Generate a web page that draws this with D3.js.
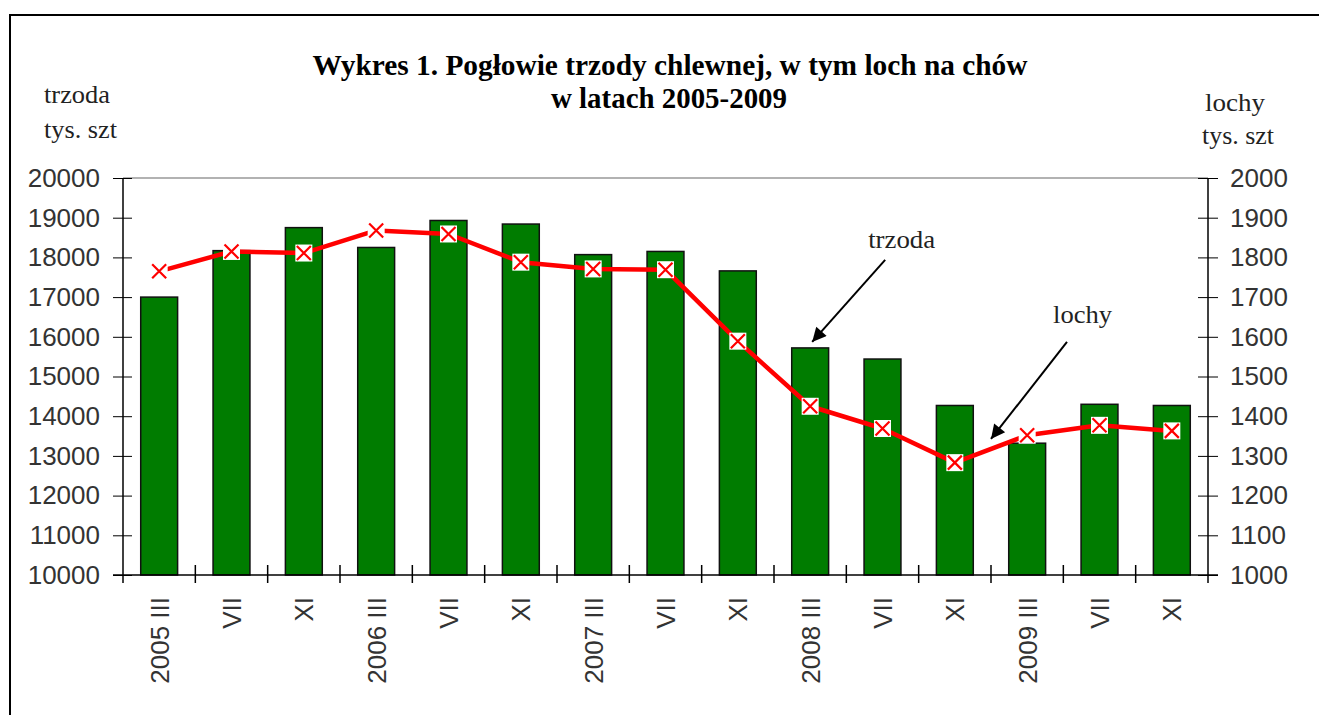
<!DOCTYPE html>
<html>
<head>
<meta charset="utf-8">
<script src="https://cdn.jsdelivr.net/npm/d3@7"></script>
<style>
  body { margin: 0; background: #fff; }
  svg { display: block; }
</style>
</head>
<body>
<div id="chart"></div>
<script>
// categories (survey months) and the two series
const categories = ["2005 III", "VII", "XI", "2006 III", "VII", "XI", "2007 III", "VII", "XI",
                    "2008 III", "VII", "XI", "2009 III", "VII", "XI"];
const trzoda = [17000, 18170, 18750, 18250, 18930, 18840, 18070, 18150, 17660,
                15720, 15440, 14270, 13320, 14300, 14270];
const lochy = [1765, 1815, 1811, 1868, 1859, 1788, 1771, 1769, 1589,
               1425, 1369, 1283, 1352, 1377, 1363];
const leftTicks = [10000, 11000, 12000, 13000, 14000, 15000, 16000, 17000, 18000, 19000, 20000];
const rightTicks = [1000, 1100, 1200, 1300, 1400, 1500, 1600, 1700, 1800, 1900, 2000];

const W = 1319, H = 715;
const sans = "'Liberation Sans', Arial, sans-serif";
const serif = "'Liberation Serif', 'Times New Roman', serif";

const svg = d3.select("#chart").append("svg")
  .attr("width", W)
  .attr("height", H);

// frame (only top and left edges visible)
svg.append("line").attr("x1", 10).attr("x2", W).attr("y1", 15).attr("y2", 15)
  .attr("stroke", "#000").attr("stroke-width", 2);
svg.append("line").attr("x1", 10).attr("x2", 10).attr("y1", 14).attr("y2", H)
  .attr("stroke", "#000").attr("stroke-width", 2);

// scales
const x = d3.scaleBand()
  .domain(d3.range(categories.length))
  .range([123, 1208])
  .paddingInner(0.49)
  .paddingOuter(0.245);
const yL = d3.scaleLinear().domain([10000, 20000]).range([575, 178]);
const yR = d3.scaleLinear().domain([1000, 2000]).range([575, 178]);
const cx = i => x(i) + x.bandwidth() / 2;

// title
svg.append("text")
  .attr("x", 670).attr("y", 75)
  .attr("text-anchor", "middle")
  .attr("textLength", 715).attr("lengthAdjust", "spacingAndGlyphs")
  .style("font-family", serif).style("font-weight", "bold").style("font-size", "30px")
  .text("Wykres 1. Pogłowie trzody chlewnej, w tym loch na chów");
svg.append("text")
  .attr("x", 669).attr("y", 108)
  .attr("text-anchor", "middle")
  .attr("textLength", 236).attr("lengthAdjust", "spacingAndGlyphs")
  .style("font-family", serif).style("font-weight", "bold").style("font-size", "30px")
  .text("w latach 2005-2009");

// axis titles
const axTitle = (tx, ty, s, len) => svg.append("text")
  .attr("x", tx).attr("y", ty)
  .attr("textLength", len).attr("lengthAdjust", "spacingAndGlyphs")
  .style("font-family", serif).style("font-size", "26px").style("fill", "#222")
  .text(s);
axTitle(44, 103, "trzoda", 66);
axTitle(44, 138, "tys. szt", 73);
axTitle(1205, 111, "lochy", 60);
axTitle(1202, 144, "tys. szt", 72);

// plot area top border
svg.append("line")
  .attr("x1", x.range()[0]).attr("x2", x.range()[1])
  .attr("y1", yL(20000)).attr("y2", yL(20000))
  .attr("stroke", "#999").attr("stroke-width", 1.5);

// bars
svg.append("g").selectAll("rect")
  .data(trzoda)
  .join("rect")
  .attr("x", (d, i) => x(i))
  .attr("y", d => yL(d))
  .attr("width", x.bandwidth())
  .attr("height", d => yL(10000) - yL(d))
  .attr("fill", "#007c00")
  .attr("stroke", "#111")
  .attr("stroke-width", 1.5);

// left axis
const gL = svg.append("g")
  .attr("transform", `translate(${x.range()[0]},0)`)
  .call(d3.axisLeft(yL).tickValues(leftTicks).tickFormat(d3.format("d"))
    .tickSize(10).tickPadding(13).tickSizeOuter(0));
gL.selectAll(".tick line").attr("x1", 9);
gL.select(".domain").attr("stroke-width", 1.5).attr("d", `M0,${yL(20000)}V${yL(10000) + 8}`);
gL.selectAll("text").style("font-family", sans).style("font-size", "26px").style("fill", "#333");

// right axis
const gR = svg.append("g")
  .attr("transform", `translate(${x.range()[1]},0)`)
  .call(d3.axisRight(yR).tickValues(rightTicks).tickFormat(d3.format("d"))
    .tickSize(10).tickPadding(12).tickSizeOuter(0));
gR.selectAll(".tick line").attr("x1", -10);
gR.select(".domain").attr("stroke-width", 1.5).attr("d", `M0,${yR(2000)}V${yR(1000) + 8}`);
gR.selectAll("text").style("font-family", sans).style("font-size", "26px").style("fill", "#333");

// category axis: baseline, boundary ticks, rotated labels
const base = yL(10000);
svg.append("line")
  .attr("x1", x.range()[0] - 10).attr("x2", x.range()[1] + 10)
  .attr("y1", base).attr("y2", base)
  .attr("stroke", "#000").attr("stroke-width", 1.5);
svg.append("g").selectAll("line")
  .data(d3.range(1, categories.length))
  .join("line")
  .attr("x1", i => cx(i) - x.step() / 2).attr("x2", i => cx(i) - x.step() / 2)
  .attr("y1", base - 10).attr("y2", base + 8)
  .attr("stroke", "#000").attr("stroke-width", 1.5);
svg.append("g").selectAll("text")
  .data(categories)
  .join("text")
  .attr("transform", (d, i) => `translate(${cx(i)},${base + 22}) rotate(-90)`)
  .attr("text-anchor", "end")
  .attr("dy", "0.36em")
  .style("font-family", sans).style("font-size", "26px").style("fill", "#333")
  .text(d => d);

// lochy line
svg.append("path")
  .datum(lochy)
  .attr("fill", "none")
  .attr("stroke", "#ff0000")
  .attr("stroke-width", 4.5)
  .attr("stroke-linejoin", "round")
  .attr("d", d3.line().x((d, i) => cx(i)).y(d => yR(d)));

// markers: white square with red cross
const mk = svg.append("g").selectAll("g")
  .data(lochy)
  .join("g")
  .attr("transform", (d, i) => `translate(${cx(i)},${yR(d)})`);
mk.append("rect")
  .attr("x", -8.5).attr("y", -8.5).attr("width", 17).attr("height", 17)
  .attr("fill", "#fff");
mk.append("path")
  .attr("d", "M-7,-7L7,7M-7,7L7,-7")
  .attr("stroke", "#ff0000").attr("stroke-width", 2.2).attr("fill", "none");

// annotations with arrows
svg.append("defs").append("marker")
  .attr("id", "arr")
  .attr("viewBox", "0 0 10 10")
  .attr("refX", 10).attr("refY", 5)
  .attr("markerWidth", 9).attr("markerHeight", 7)
  .attr("markerUnits", "strokeWidth")
  .attr("orient", "auto")
  .append("path").attr("d", "M0,0L10,5L0,10Z").attr("fill", "#000");

const tipT = [cx(9) + 2, yL(trzoda[9]) - 6];
svg.append("line")
  .attr("x1", tipT[0] + 73).attr("y1", tipT[1] - 82)
  .attr("x2", tipT[0]).attr("y2", tipT[1])
  .attr("stroke", "#000").attr("stroke-width", 2).attr("marker-end", "url(#arr)");
svg.append("text")
  .attr("x", tipT[0] + 56).attr("y", tipT[1] - 94)
  .attr("textLength", 67).attr("lengthAdjust", "spacingAndGlyphs")
  .style("font-family", serif).style("font-size", "26px").style("fill", "#222")
  .text("trzoda");

const tipL = [(cx(11) + cx(12)) / 2, (yR(lochy[11]) + yR(lochy[12])) / 2 - 10];
svg.append("line")
  .attr("x1", tipL[0] + 76).attr("y1", tipL[1] - 97)
  .attr("x2", tipL[0]).attr("y2", tipL[1])
  .attr("stroke", "#000").attr("stroke-width", 2).attr("marker-end", "url(#arr)");
svg.append("text")
  .attr("x", tipL[0] + 62).attr("y", tipL[1] - 116)
  .attr("textLength", 59).attr("lengthAdjust", "spacingAndGlyphs")
  .style("font-family", serif).style("font-size", "26px").style("fill", "#222")
  .text("lochy");
</script>
</body>
</html>
